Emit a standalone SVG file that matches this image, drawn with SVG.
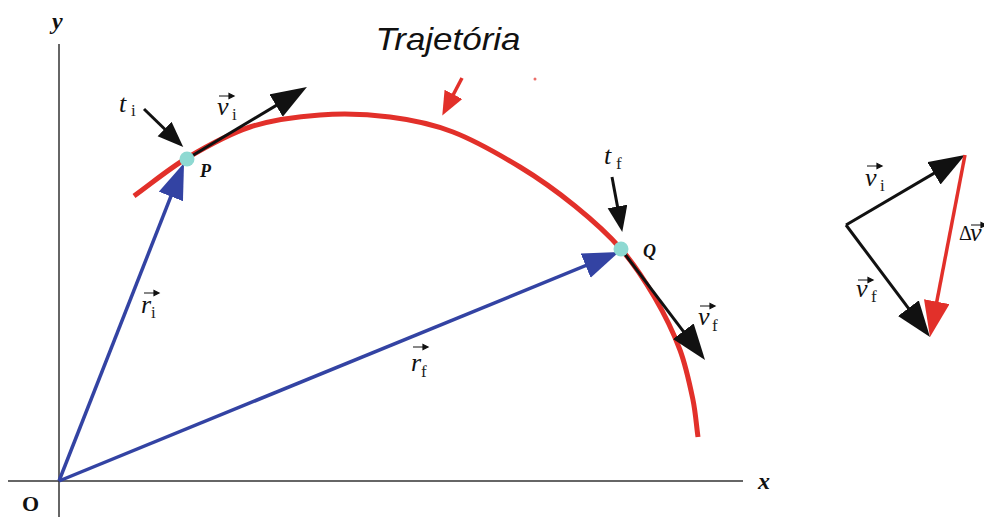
<svg xmlns="http://www.w3.org/2000/svg" width="984" height="517" viewBox="0 0 984 517">
<style>
.ax{stroke:#333;stroke-width:1.5;fill:none}
.curve{stroke:#e2302a;stroke-width:5;fill:none;stroke-linecap:butt}
.blue{stroke:#3343a3;stroke-width:3.5;fill:none}
.blk{stroke:#111;stroke-width:3;fill:none}
.red{stroke:#e2302a;stroke-width:3.5;fill:none}
.lbl{font-family:"Liberation Serif","Times New Roman",serif;font-style:italic;font-size:26px;fill:#111}
.sub{font-family:"Liberation Serif","Times New Roman",serif;font-size:17px;fill:#222}
.bi{font-family:"Liberation Serif","Times New Roman",serif;font-style:italic;font-weight:bold;fill:#111}
.pt{fill:#8ed9d2}
</style>
<defs>
<marker id="hb" markerUnits="userSpaceOnUse" markerWidth="40" markerHeight="30" refX="28" refY="13" orient="auto"><path d="M0,0 L36,13 L0,26 z" fill="#3343a3"/></marker>
<marker id="hk" markerUnits="userSpaceOnUse" markerWidth="40" markerHeight="30" refX="28" refY="13" orient="auto"><path d="M0,0 L36,13 L0,26 z" fill="#111"/></marker>
<marker id="hr" markerUnits="userSpaceOnUse" markerWidth="40" markerHeight="30" refX="28" refY="13" orient="auto"><path d="M0,0 L36,13 L0,26 z" fill="#e2302a"/></marker>
<marker id="sk" markerUnits="userSpaceOnUse" markerWidth="30" markerHeight="24" refX="18" refY="10" orient="auto"><path d="M0,0 L26,10 L0,20 z" fill="#111"/></marker>
<marker id="sr" markerUnits="userSpaceOnUse" markerWidth="30" markerHeight="24" refX="16" refY="10" orient="auto"><path d="M0,0 L24,10 L0,20 z" fill="#e2302a"/></marker>
<path id="va" d="M0,0 H14 M10,-2.5 L15,0 L10,2.5 z" stroke="#111" stroke-width="1.2" fill="#111"/>
</defs>

<g id="axes">
<path class="ax" d="M59,44 V517"/>
<path class="ax" d="M8,481 H743"/>
<text class="bi" x="52" y="29" font-size="24">y</text>
<text class="bi" x="758" y="489" font-size="24">x</text>
<text x="22" y="511" font-family="Liberation Serif,serif" font-weight="bold" font-size="22" fill="#111">O</text>
</g>

<g id="trajectory">
<path class="curve" d="M134,196 C151.7,183.3 168.4,169.1 187,158 C207.1,146.1 228,134.1 250,127 C272.3,119.8 296.5,116.7 320,115 C343.2,113.3 367,114.1 390,117 C411.3,119.7 433,124.3 453,132 C476.3,141 498.5,154 520,167 C539.2,178.6 557.6,191.9 575,206 C591.3,219.2 607.3,233.3 621,249 C634,263.9 645,280.9 655,298 C664.7,314.6 673.3,332.1 680,350 C686,366.1 689.5,383.2 693,400 C695.5,412.2 696.3,424.7 698,437"/>
<text x="448" y="50" text-anchor="middle" font-family="Liberation Sans,Arial,sans-serif" font-style="italic" font-size="32" textLength="145" lengthAdjust="spacingAndGlyphs" fill="#111">Trajetória</text>
<circle cx="535" cy="79" r="1.5" fill="#e2302a" opacity="0.7"/>
</g>

<g id="connectors">
<path class="blue" d="M59,481 L181.1,170.4" marker-end="url(#hb)"/>
<path class="blue" d="M59,481 L611.6,255" marker-end="url(#hb)"/>
<path class="blk" d="M190,157 L300.1,91.1" marker-end="url(#hk)"/>
<path class="blk" d="M144,109 L177.5,141.5" marker-end="url(#sk)"/>
<path class="blk" d="M612,177 L620.8,224.2" marker-end="url(#sk)"/>
<path class="blk" d="M621,249 L700.2,353.6" marker-end="url(#hk)"/>
<path class="red" d="M462,78 L446,108.5" marker-end="url(#sr)"/>
<path class="blk" d="M846,225 L958.1,159.1" marker-end="url(#hk)"/>
<path class="blk" d="M846,225 L925.2,330.6" marker-end="url(#hk)"/>
<path class="red" d="M965,155 L931.5,329.1" marker-end="url(#hr)"/>
</g>

<g id="P">
<circle class="pt" cx="187" cy="159" r="7.5"/>
<text class="bi" x="200" y="177" font-size="18">P</text>
</g>
<g id="Q">
<circle class="pt" cx="621" cy="249" r="7.5"/>
<text class="bi" x="643" y="257" font-size="18">Q</text>
</g>

<g id="label-ti">
<text class="lbl" x="119" y="112">t</text><text class="sub" x="131" y="116">i</text>
</g>
<g id="label-vi">
<use href="#va" x="219" y="96"/>
<text class="lbl" x="217" y="115">v</text><text class="sub" x="232" y="120">i</text>
</g>
<g id="label-tf">
<text class="lbl" x="604" y="164">t</text><text class="sub" x="616" y="169">f</text>
</g>
<g id="label-vf">
<use href="#va" x="700" y="306"/>
<text class="lbl" x="698" y="325">v</text><text class="sub" x="712" y="331">f</text>
</g>
<g id="label-ri">
<use href="#va" x="144" y="293"/>
<text class="lbl" x="141" y="313">r</text><text class="sub" x="151" y="318">i</text>
</g>
<g id="label-rf">
<use href="#va" x="413" y="347"/>
<text class="lbl" x="411" y="371">r</text><text class="sub" x="421" y="377">f</text>
</g>

<g id="label-vi2">
<use href="#va" x="867" y="166"/>
<text class="lbl" x="865" y="186">v</text><text class="sub" x="880" y="191">i</text>
</g>
<g id="label-vf2">
<use href="#va" x="858" y="280"/>
<text class="lbl" x="856" y="297">v</text><text class="sub" x="871" y="302">f</text>
</g>
<g id="label-dv">
<use href="#va" x="971" y="225"/>
<text x="959" y="240" font-family="Liberation Serif,serif" font-size="20" fill="#111">Δ</text>
<text class="lbl" x="970" y="241">v</text>
</g>
</svg>
